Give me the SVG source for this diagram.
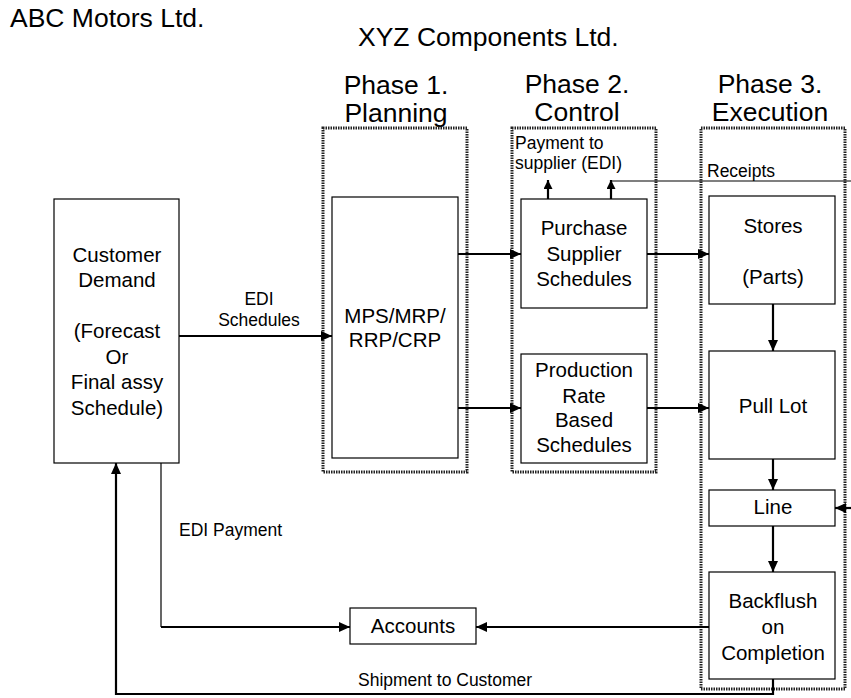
<svg xmlns="http://www.w3.org/2000/svg" width="851" height="698" viewBox="0 0 851 698">
  <defs>
    <marker id="arrow" markerUnits="userSpaceOnUse" markerWidth="11" markerHeight="10" refX="11" refY="5" orient="auto">
      <path d="M0,0 L11,5 L0,10 z" fill="#000"/>
    </marker>
    <marker id="arrowSmall" markerUnits="userSpaceOnUse" markerWidth="9" markerHeight="9" refX="9" refY="4.5" orient="auto">
      <path d="M0,0 L9,4.5 L0,9 z" fill="#000"/>
    </marker>
    <style>
      text { font-family: "Liberation Sans", Arial, sans-serif; fill: #000; }
      .title { font-size: 26.5px; }
      .phase { font-size: 26.5px; text-anchor: middle; }
      .body { font-size: 20.5px; text-anchor: middle; }
      .small { font-size: 17.5px; }
      .box { fill: #fff; stroke: #000; stroke-width: 1.2; }
      .frame { fill: none; stroke: #222; stroke-width: 3; stroke-dasharray: 1.5 1; }
      .wire { fill: none; stroke: #000; stroke-width: 2.2; }
      .thin { fill: none; stroke: #000; stroke-width: 1.2; }
    </style>
  </defs>

  <rect width="851" height="698" fill="#fff"/>

  <!-- company headings -->
  <g id="headings">
    <text class="title" x="10" y="27">ABC Motors Ltd.</text>
    <text class="title" x="358" y="46">XYZ Components Ltd.</text>
  </g>

  <!-- phase frames and titles -->
  <g id="phase1">
    <text class="phase" x="396" y="94">Phase 1.</text>
    <text class="phase" x="396" y="122">Planning</text>
    <rect class="frame" x="323" y="128" width="144" height="344"/>
  </g>
  <g id="phase2">
    <text class="phase" x="577" y="93">Phase 2.</text>
    <text class="phase" x="577" y="121">Control</text>
    <rect class="frame" x="512" y="128" width="144" height="344"/>
    <text class="small" x="515" y="149">Payment to</text>
    <text class="small" x="515" y="169">supplier (EDI)</text>
  </g>
  <g id="phase3">
    <text class="phase" x="770" y="93">Phase 3.</text>
    <text class="phase" x="770" y="121">Execution</text>
    <rect class="frame" x="701" y="128" width="144" height="561"/>
    <text class="small" x="707" y="177">Receipts</text>
  </g>

  <!-- nodes -->
  <g id="customer">
    <rect class="box" x="54" y="199" width="125" height="264"/>
    <text class="body" x="117" y="262">Customer</text>
    <text class="body" x="117" y="287">Demand</text>
    <text class="body" x="117" y="338">(Forecast</text>
    <text class="body" x="117" y="364">Or</text>
    <text class="body" x="117" y="389">Final assy</text>
    <text class="body" x="117" y="415">Schedule)</text>
  </g>
  <g id="mps">
    <rect class="box" x="332" y="197" width="126" height="261"/>
    <text class="body" x="395" y="323">MPS/MRP/</text>
    <text class="body" x="395" y="347">RRP/CRP</text>
  </g>
  <g id="purchase">
    <rect class="box" x="521" y="199" width="126" height="109"/>
    <text class="body" x="584" y="235">Purchase</text>
    <text class="body" x="584" y="261">Supplier</text>
    <text class="body" x="584" y="286">Schedules</text>
  </g>
  <g id="production">
    <rect class="box" x="521" y="354" width="126" height="109"/>
    <text class="body" x="584" y="377">Production</text>
    <text class="body" x="584" y="403">Rate</text>
    <text class="body" x="584" y="427">Based</text>
    <text class="body" x="584" y="452">Schedules</text>
  </g>
  <g id="stores">
    <rect class="box" x="709" y="196" width="126" height="108"/>
    <text class="body" x="773" y="233">Stores</text>
    <text class="body" x="773" y="284">(Parts)</text>
  </g>
  <g id="pull-lot">
    <rect class="box" x="709" y="351" width="126" height="108"/>
    <text class="body" x="773" y="413">Pull Lot</text>
  </g>
  <g id="line">
    <rect class="box" x="709" y="490" width="126" height="36"/>
    <text class="body" x="773" y="514">Line</text>
  </g>
  <g id="backflush">
    <rect class="box" x="709" y="572" width="126" height="107"/>
    <text class="body" x="773" y="608">Backflush</text>
    <text class="body" x="773" y="634">on</text>
    <text class="body" x="773" y="660">Completion</text>
  </g>
  <g id="accounts">
    <rect class="box" x="350" y="608" width="126" height="36"/>
    <text class="body" x="413" y="633">Accounts</text>
  </g>

  <!-- connectors -->
  <g id="connectors">
    <path class="wire" d="M179,336 H332" marker-end="url(#arrow)"/>
    <path class="wire" d="M458,254 H521" marker-end="url(#arrow)"/>
    <path class="wire" d="M458,408 H521" marker-end="url(#arrow)"/>
    <path class="wire" d="M647,254 H709" marker-end="url(#arrow)"/>
    <path class="wire" d="M647,408 H709" marker-end="url(#arrow)"/>
    <path class="wire" d="M773,304 V351" marker-end="url(#arrow)"/>
    <path class="wire" d="M773,459 V490" marker-end="url(#arrow)"/>
    <path class="wire" d="M773,526 V572" marker-end="url(#arrow)"/>
    <path class="wire" d="M851,508 H835" marker-end="url(#arrow)"/>
    <path class="wire" d="M548,199 V180" marker-end="url(#arrowSmall)"/>
    <path class="wire" d="M611,199 V180" marker-end="url(#arrowSmall)"/>
    <path class="thin" d="M611,181 H851"/>
    <path class="wire" d="M709,627 H476" marker-end="url(#arrow)"/>
    <path class="thin" d="M161,463 V627"/>
    <path class="wire" d="M161,627 H350" marker-end="url(#arrow)"/>
    <path class="wire" d="M773,679 V694 H116 V463" marker-end="url(#arrow)"/>
    <text class="small" x="259" y="305" text-anchor="middle">EDI</text>
    <text class="small" x="259" y="326" text-anchor="middle">Schedules</text>
    <text class="small" x="179" y="536">EDI Payment</text>
    <text class="small" x="358" y="686">Shipment to Customer</text>
  </g>
</svg>
